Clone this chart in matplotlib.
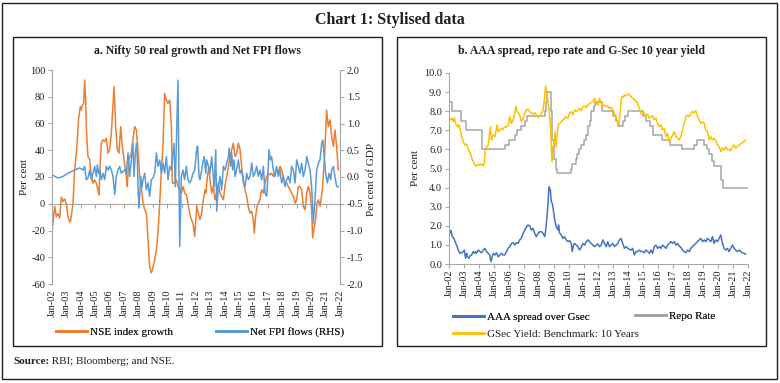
import matplotlib
matplotlib.use("Agg")
import matplotlib.pyplot as plt
from matplotlib.patches import Rectangle
from matplotlib.lines import Line2D
from matplotlib.text import Annotation

plt.rcParams['font.family'] = ['Liberation Serif', 'DejaVu Serif']
plt.rcParams['axes.unicode_minus'] = False

# ---------------- Data ----------------
# Panel a: NSE index growth (per cent, LHS)
nse_t = [2002.00, 2002.19, 2002.30, 2002.42, 2002.53, 2002.65, 2002.76, 2002.88, 2003.00, 2003.11,
         2003.23, 2003.30, 2003.46, 2003.57, 2003.69, 2003.76, 2003.85, 2003.97, 2004.04, 2004.11,
         2004.20, 2004.27, 2004.34, 2004.38, 2004.45, 2004.50, 2004.62, 2004.73, 2004.85, 2004.96,
         2005.08, 2005.19, 2005.26, 2005.36, 2005.43, 2005.54, 2005.66, 2005.77, 2005.89, 2006.00,
         2006.12, 2006.24, 2006.31, 2006.38, 2006.42, 2006.54, 2006.65, 2006.77, 2006.86, 2007.00,
         2007.09, 2007.19, 2007.23, 2007.32, 2007.51, 2007.62, 2007.74, 2007.86, 2007.97, 2008.09,
         2008.20, 2008.32, 2008.44, 2008.55, 2008.67, 2008.78, 2008.90, 2009.01, 2009.13, 2009.25,
         2009.36, 2009.48, 2009.59, 2009.71, 2009.82, 2009.94, 2010.06, 2010.17, 2010.29, 2010.36,
         2010.47, 2010.63, 2010.75, 2010.87, 2010.98, 2011.10, 2011.21, 2011.33, 2011.44, 2011.56,
         2011.68, 2011.79, 2011.91, 2012.05, 2012.16, 2012.28, 2012.39, 2012.51, 2012.63, 2012.69,
         2012.79, 2012.90, 2012.97, 2013.09, 2013.20, 2013.32, 2013.44, 2013.55, 2013.67, 2013.78,
         2013.90, 2014.01, 2014.13, 2014.25, 2014.36, 2014.48, 2014.59, 2014.71, 2014.82, 2014.94,
         2015.06, 2015.17, 2015.29, 2015.40, 2015.52, 2015.63, 2015.75, 2015.87, 2015.98, 2016.05,
         2016.14, 2016.24, 2016.33, 2016.44, 2016.56, 2016.68, 2016.79, 2016.91, 2017.02, 2017.14,
         2017.25, 2017.37, 2017.49, 2017.60, 2017.72, 2017.83, 2017.95, 2018.06, 2018.18, 2018.30,
         2018.41, 2018.53, 2018.64, 2018.76, 2018.88, 2018.99, 2019.11, 2019.22, 2019.34, 2019.45,
         2019.57, 2019.69, 2019.80, 2019.92, 2020.03, 2020.10, 2020.22, 2020.31, 2020.40, 2020.50,
         2020.61, 2020.68, 2020.77, 2020.87, 2020.96, 2021.07, 2021.19, 2021.31, 2021.42, 2021.54,
         2021.65, 2021.77, 2021.88]
nse_v = [-20.6, -2.0, -9.5, -7.5, -10.7, 5.0, 1.7, 3.5, 0.0, -9.5,
         -13.7, -12.4, 0.5, 25.4, 37.8, 47.8, 63.9, 72.6, 70.1, 73.9,
         75.1, 92.5, 77.6, 57.7, 42.8, 35.3, 32.8, 20.4, 15.4, 17.9,
         15.4, 10.4, 6.7, 32.8, 45.3, 47.8, 46.5, 49.0, 37.8, 40.3,
         52.7, 75.1, 87.6, 70.1, 57.7, 40.3, 37.8, 57.7, 45.3, 32.8,
         25.4, 17.9, 12.9, 32.8, 37.8, 47.8, 57.7, 55.2, 40.3, 20.4,
         12.9, 0.5, -4.5, -7.0, -26.9, -46.8, -51.7, -48.0, -41.8, -34.3,
         -21.9, 0.5, 22.9, 45.3, 82.6, 77.6, 75.1, 77.6, 57.7, 15.4,
         15.4, 17.9, 12.9, 10.4, 8.0, 12.9, 8.0, 6.7, 0.5, -7.0,
         -11.9, -14.4, -24.4, -2.0, -7.0, -11.9, -7.0, 3.0, 10.4, 8.0,
         20.4, 27.9, 17.9, 8.0, 12.9, 3.0, 8.0, 15.4, 8.0, 5.5,
         3.0, 12.9, 20.4, 27.9, 35.3, 40.3, 45.3, 35.3, 37.8, 45.3,
         40.3, 27.9, 17.9, 10.4, 5.5, -2.0, -7.0, -5.7, -11.9, -21.9,
         -9.5, -2.0, 0.5, 3.0, 10.4, 8.0, 15.4, 20.4, 22.9, 21.6,
         22.9, 20.4, 22.9, 25.4, 22.9, 27.9, 25.4, 20.4, 15.4, 15.4,
         12.9, 10.4, 8.0, 5.5, 0.5, 3.0, 12.9, 12.9, 10.4, -2.0,
         -4.5, 8.0, 12.9, 8.0, -4.5, -25.6, -16.9, -11.9, 0.5, 3.0,
         -2.0, 3.0, 10.4, 25.4, 42.8, 70.1, 57.7, 62.7, 50.2, 42.8,
         55.2, 42.8, 25.4]

# Panel a: Net FPI flows (per cent of GDP, RHS)
fpi_t = [2002.00, 2002.42, 2002.76, 2003.11, 2003.57, 2003.92, 2004.15, 2004.27, 2004.38, 2004.50,
         2004.62, 2004.73, 2004.85, 2004.96, 2005.08, 2005.15, 2005.24, 2005.31, 2005.43, 2005.54,
         2005.66, 2005.77, 2005.89, 2006.00, 2006.12, 2006.24, 2006.35, 2006.47, 2006.58, 2006.70,
         2006.81, 2006.93, 2007.05, 2007.16, 2007.28, 2007.39, 2007.51, 2007.62, 2007.69, 2007.79,
         2007.86, 2007.93, 2007.97, 2008.04, 2008.16, 2008.25, 2008.32, 2008.44, 2008.55, 2008.67,
         2008.78, 2008.90, 2009.01, 2009.13, 2009.25, 2009.36, 2009.48, 2009.59, 2009.71, 2009.82,
         2009.94, 2010.06, 2010.17, 2010.29, 2010.47, 2010.56, 2010.75, 2010.87, 2010.98, 2011.10,
         2011.21, 2011.33, 2011.44, 2011.56, 2011.68, 2011.79, 2011.91, 2012.07, 2012.12, 2012.21,
         2012.28, 2012.39, 2012.51, 2012.58, 2012.67, 2012.74, 2012.86, 2012.97, 2013.09, 2013.20,
         2013.27, 2013.37, 2013.44, 2013.55, 2013.67, 2013.78, 2013.90, 2014.01, 2014.13, 2014.25,
         2014.31, 2014.41, 2014.48, 2014.55, 2014.64, 2014.71, 2014.82, 2014.94, 2015.06, 2015.17,
         2015.29, 2015.40, 2015.52, 2015.63, 2015.75, 2015.87, 2015.98, 2016.10, 2016.21, 2016.33,
         2016.44, 2016.56, 2016.68, 2016.79, 2016.91, 2016.98, 2017.07, 2017.16, 2017.25, 2017.37,
         2017.49, 2017.60, 2017.72, 2017.83, 2017.95, 2018.06, 2018.18, 2018.30, 2018.41, 2018.53,
         2018.64, 2018.76, 2018.88, 2018.99, 2019.11, 2019.22, 2019.34, 2019.45, 2019.57, 2019.69,
         2019.80, 2019.92, 2020.03, 2020.15, 2020.26, 2020.38, 2020.50, 2020.61, 2020.73, 2020.80,
         2020.91, 2021.00, 2021.12, 2021.24, 2021.35, 2021.42, 2021.54, 2021.65, 2021.77, 2021.88]
fpi_v = [0.04, -0.02, 0.01, 0.07, 0.13, 0.17, 0.13, 0.20, -0.05, -0.02,
         0.13, -0.05, 0.07, 0.20, 0.01, 0.23, 0.07, 0.13, -0.05, 0.07,
         -0.05, 0.20, 0.13, 0.20, 0.13, 0.01, -0.33, 0.01, 0.13, 0.20,
         0.07, 0.10, 0.13, 0.07, 0.45, 0.01, 0.32, 0.63, 0.01, 0.45,
         0.63, 0.32, -0.18, -0.58, 0.01, -0.18, -0.05, 0.07, -0.24, -0.11,
         -0.36, -0.05, -0.02, 0.07, 0.45, 0.20, 0.32, 0.07, 0.26, 0.07,
         0.38, -0.05, 0.20, 0.13, 0.63, -0.18, 1.81, -1.30, 0.01, 0.13,
         -0.05, 0.20, -0.05, -0.11, -0.05, 0.07, 0.13, 0.57, 0.57, 0.01,
         -0.05, 0.13, 0.32, 0.38, 0.07, 0.32, 0.20, 0.07, 0.38, 0.01,
         -0.18, 0.51, -0.64, -0.18, 0.01, -0.24, 0.20, 0.13, 0.26, 0.38,
         0.54, 0.20, 0.45, 0.13, 0.32, 0.01, 0.13, 0.32, 0.07, 0.13,
         -0.11, -0.18, 0.07, -0.05, 0.01, 0.26, 0.01, 0.07, 0.20, 0.01,
         0.13, -0.05, 0.20, -0.30, -0.36, -0.05, 0.51, 0.32, 0.38, 0.13,
         0.01, 0.20, 0.01, 0.13, -0.11, 0.01, -0.18, -0.05, 0.01, -0.11,
         0.20, 0.13, -0.11, 0.32, 0.20, 0.07, 0.26, 0.01, 0.13, 0.38,
         0.26, 0.13, -0.18, -0.86, -0.43, 0.13, 0.26, 0.32, 0.63, 0.69,
         0.38, 0.07, -0.11, 0.07, -0.05, 0.13, 0.20, 0.01, -0.18, -0.18]

# Panel b: GSec yield benchmark 10 years
gsec_t = [2002.00, 2002.07, 2002.18, 2002.29, 2002.36, 2002.44, 2002.58, 2002.67, 2002.78, 2002.84,
          2002.96, 2003.07, 2003.18, 2003.29, 2003.40, 2003.51, 2003.62, 2003.73, 2003.84, 2003.96,
          2004.07, 2004.18, 2004.29, 2004.36, 2004.42, 2004.51, 2004.62, 2004.69, 2004.78, 2004.84,
          2004.91, 2004.98, 2005.07, 2005.13, 2005.22, 2005.29, 2005.40, 2005.51, 2005.62, 2005.73,
          2005.84, 2005.96, 2006.07, 2006.18, 2006.29, 2006.40, 2006.47, 2006.56, 2006.67, 2006.76,
          2006.84, 2006.96, 2007.07, 2007.18, 2007.29, 2007.40, 2007.51, 2007.62, 2007.73, 2007.84,
          2007.96, 2008.07, 2008.18, 2008.29, 2008.40, 2008.47, 2008.53, 2008.62, 2008.73, 2008.80,
          2008.89, 2008.96, 2009.02, 2009.09, 2009.16, 2009.22, 2009.31, 2009.40, 2009.51, 2009.62,
          2009.73, 2009.84, 2009.96, 2010.07, 2010.18, 2010.29, 2010.40, 2010.51, 2010.62, 2010.73,
          2010.84, 2010.96, 2011.07, 2011.18, 2011.29, 2011.40, 2011.51, 2011.62, 2011.73, 2011.84,
          2011.96, 2012.07, 2012.18, 2012.29, 2012.40, 2012.51, 2012.62, 2012.73, 2012.84, 2012.96,
          2013.07, 2013.18, 2013.29, 2013.36, 2013.44, 2013.51, 2013.58, 2013.67, 2013.73, 2013.84,
          2013.96, 2014.07, 2014.18, 2014.29, 2014.40, 2014.51, 2014.62, 2014.73, 2014.84, 2014.96,
          2015.07, 2015.18, 2015.29, 2015.40, 2015.51, 2015.62, 2015.73, 2015.84, 2015.96, 2016.07,
          2016.18, 2016.29, 2016.40, 2016.51, 2016.62, 2016.73, 2016.84, 2016.96, 2017.07, 2017.18,
          2017.29, 2017.40, 2017.51, 2017.62, 2017.73, 2017.84, 2017.96, 2018.07, 2018.18, 2018.29,
          2018.40, 2018.51, 2018.62, 2018.73, 2018.84, 2018.96, 2019.07, 2019.18, 2019.29, 2019.40,
          2019.51, 2019.62, 2019.73, 2019.84, 2019.96, 2020.07, 2020.18, 2020.29, 2020.40, 2020.51,
          2020.62, 2020.73, 2020.84, 2020.96, 2021.07, 2021.18, 2021.29, 2021.40, 2021.51, 2021.62,
          2021.73, 2021.84]
gsec_v = [7.68, 7.54, 7.63, 7.45, 7.66, 7.36, 7.19, 7.28, 6.93, 6.67,
          6.40, 6.23, 6.28, 5.97, 5.83, 5.58, 5.36, 5.18, 5.13, 5.22,
          5.18, 5.24, 5.13, 5.27, 5.97, 6.11, 6.23, 6.67, 7.19, 6.49,
          6.67, 6.75, 6.67, 6.93, 7.28, 6.93, 7.02, 7.10, 7.05, 7.19,
          7.16, 7.28, 7.71, 7.36, 7.54, 7.89, 8.27, 7.98, 7.89, 7.71,
          7.45, 7.63, 7.89, 8.06, 8.10, 7.98, 7.89, 7.85, 7.92, 7.80,
          7.68, 7.75, 7.89, 8.03, 8.76, 9.32, 8.94, 8.50, 7.80, 7.02,
          5.36, 6.14, 6.32, 6.93, 6.14, 6.67, 7.28, 7.36, 7.45, 7.54,
          7.63, 7.71, 7.63, 7.89, 7.98, 7.80, 8.06, 7.98, 8.06, 8.15,
          8.03, 8.24, 8.27, 8.20, 8.32, 8.41, 8.45, 8.50, 8.67, 8.41,
          8.32, 8.67, 8.41, 8.27, 8.32, 8.24, 8.27, 8.15, 8.20, 8.10,
          7.89, 7.71, 7.36, 7.28, 7.89, 8.59, 8.76, 8.73, 8.85, 8.80,
          8.90, 8.85, 8.76, 8.67, 8.59, 8.55, 8.41, 8.15, 7.89, 7.80,
          7.89, 7.71, 7.85, 7.63, 7.71, 7.75, 7.57, 7.63, 7.36, 7.19,
          7.28, 7.02, 7.10, 6.67, 6.84, 6.40, 6.58, 6.75, 6.93, 6.67,
          6.58, 6.49, 6.67, 7.02, 7.36, 7.71, 7.80, 7.71, 7.89, 7.98,
          7.92, 8.03, 7.71, 7.54, 7.36, 7.45, 7.36, 7.02, 6.93, 6.49,
          6.67, 6.49, 6.58, 6.46, 6.23, 6.14, 5.88, 6.06, 5.97, 6.14,
          5.97, 6.00, 5.93, 6.14, 6.23, 6.06, 6.14, 6.23, 6.28, 6.35,
          6.40, 6.49]

# Panel b: AAA spread over Gsec
aaa_t = [2002.00, 2002.07, 2002.13, 2002.22, 2002.33, 2002.40, 2002.51, 2002.62, 2002.73, 2002.84,
         2002.96, 2003.02, 2003.11, 2003.18, 2003.24, 2003.33, 2003.40, 2003.51, 2003.62, 2003.69,
         2003.78, 2003.84, 2003.96, 2004.07, 2004.18, 2004.29, 2004.40, 2004.51, 2004.62, 2004.73,
         2004.80, 2004.89, 2004.96, 2005.07, 2005.18, 2005.29, 2005.40, 2005.51, 2005.62, 2005.73,
         2005.84, 2005.96, 2006.07, 2006.18, 2006.29, 2006.40, 2006.51, 2006.62, 2006.73, 2006.84,
         2006.96, 2007.07, 2007.18, 2007.29, 2007.40, 2007.51, 2007.62, 2007.73, 2007.84, 2007.96,
         2008.07, 2008.18, 2008.29, 2008.40, 2008.47, 2008.56, 2008.62, 2008.69, 2008.78, 2008.84,
         2008.91, 2008.98, 2009.07, 2009.18, 2009.29, 2009.33, 2009.40, 2009.51, 2009.62, 2009.73,
         2009.84, 2009.96, 2010.07, 2010.18, 2010.24, 2010.33, 2010.40, 2010.51, 2010.62, 2010.73,
         2010.84, 2010.96, 2011.07, 2011.18, 2011.29, 2011.40, 2011.51, 2011.62, 2011.73, 2011.84,
         2011.96, 2012.07, 2012.18, 2012.29, 2012.40, 2012.51, 2012.62, 2012.73, 2012.84, 2012.96,
         2013.07, 2013.18, 2013.29, 2013.40, 2013.51, 2013.62, 2013.73, 2013.84, 2013.96, 2014.07,
         2014.18, 2014.29, 2014.40, 2014.51, 2014.62, 2014.73, 2014.84, 2014.96, 2015.07, 2015.18,
         2015.29, 2015.40, 2015.51, 2015.62, 2015.73, 2015.84, 2015.96, 2016.07, 2016.18, 2016.29,
         2016.40, 2016.51, 2016.62, 2016.73, 2016.84, 2016.96, 2017.07, 2017.18, 2017.29, 2017.40,
         2017.51, 2017.62, 2017.73, 2017.84, 2017.96, 2018.07, 2018.18, 2018.29, 2018.40, 2018.51,
         2018.62, 2018.73, 2018.84, 2018.96, 2019.07, 2019.18, 2019.29, 2019.40, 2019.51, 2019.62,
         2019.73, 2019.84, 2019.96, 2020.07, 2020.18, 2020.29, 2020.40, 2020.51, 2020.62, 2020.73,
         2020.84, 2020.96, 2021.07, 2021.18, 2021.29, 2021.40, 2021.51, 2021.62, 2021.73, 2021.84]
aaa_v = [1.78, 1.61, 1.75, 1.43, 1.34, 1.17, 0.99, 0.73, 0.56, 0.59,
         0.65, 0.73, 0.30, 0.56, 0.38, 0.30, 0.42, 0.47, 0.65, 0.56,
         0.65, 0.56, 0.73, 0.65, 0.59, 0.73, 0.82, 0.65, 0.56, 0.47,
         0.12, 0.38, 0.56, 0.47, 0.59, 0.38, 0.47, 0.56, 0.47, 0.47,
         0.65, 0.82, 0.91, 1.08, 1.12, 0.99, 1.12, 1.08, 1.26, 1.34,
         1.61, 1.78, 1.95, 2.04, 1.99, 1.78, 1.87, 1.61, 1.43, 1.61,
         1.69, 1.69, 1.61, 1.43, 1.78, 2.48, 3.18, 4.05, 3.87, 3.26,
         3.18, 2.83, 2.30, 1.95, 1.78, 2.04, 1.61, 1.52, 1.34, 1.43,
         1.26, 1.17, 1.22, 1.08, 0.65, 0.99, 1.08, 0.99, 0.91, 0.73,
         0.87, 1.08, 0.99, 1.17, 1.26, 1.17, 1.08, 0.99, 0.91, 0.99,
         1.05, 0.91, 0.99, 1.26, 1.08, 0.91, 1.17, 0.91, 0.99, 1.08,
         0.91, 0.99, 1.08, 1.26, 1.34, 1.08, 0.82, 0.91, 0.82, 0.77,
         0.73, 0.82, 0.47, 0.65, 0.65, 0.73, 0.65, 0.65, 0.59, 0.73,
         0.65, 0.56, 0.73, 0.56, 0.91, 0.99, 0.82, 0.91, 0.82, 0.99,
         0.91, 0.82, 0.99, 1.08, 1.17, 1.08, 1.17, 0.99, 1.08, 0.94,
         0.87, 0.73, 0.65, 0.59, 0.73, 0.65, 0.82, 0.91, 0.99, 1.08,
         1.17, 1.26, 1.34, 1.17, 1.26, 1.17, 1.34, 1.26, 1.17, 1.43,
         1.08, 1.26, 1.17, 1.34, 1.52, 1.08, 0.82, 0.73, 0.82, 0.65,
         0.82, 0.99, 0.82, 0.73, 0.65, 0.73, 0.65, 0.59, 0.56, 0.52]

# Panel b: Repo rate (change points)
repo_t = [2002.00, 2002.17, 2002.83, 2003.17, 2004.22, 2005.75, 2006.00, 2006.42, 2006.58, 2006.83,
          2007.08, 2007.25, 2008.42, 2008.50, 2008.58, 2008.83, 2008.92, 2009.00, 2009.17, 2009.25,
          2010.17, 2010.25, 2010.50, 2010.58, 2010.67, 2010.83, 2011.00, 2011.17, 2011.33, 2011.42,
          2011.50, 2011.67, 2011.75, 2012.25, 2013.00, 2013.17, 2013.33, 2013.67, 2013.75, 2014.00,
          2015.00, 2015.17, 2015.42, 2015.67, 2016.25, 2016.75, 2017.58, 2018.42, 2018.58, 2019.08,
          2019.25, 2019.42, 2019.58, 2019.75, 2020.17, 2020.33, 2021.92]
repo_v = [8.50, 8.00, 7.50, 7.00, 6.00, 6.25, 6.50, 6.75, 7.00, 7.25,
          7.50, 7.75, 8.00, 8.50, 9.00, 8.00, 6.50, 5.50, 5.00, 4.75,
          5.00, 5.25, 5.50, 5.75, 6.00, 6.25, 6.50, 6.75, 7.25, 7.50,
          8.00, 8.25, 8.50, 8.00, 7.75, 7.50, 7.25, 7.50, 7.75, 8.00,
          7.75, 7.50, 7.25, 6.75, 6.50, 6.25, 6.00, 6.25, 6.50, 6.25,
          6.00, 5.75, 5.40, 5.15, 4.40, 4.00, 4.00]

year_ticks = list(range(2002, 2023))
x_labels = ['Jan-02', 'Jan-03', 'Jan-04', 'Jan-05', 'Jan-06', 'Jan-07', 'Jan-08', 'Jan-09',
            'Jan-10', 'Jan-11', 'Jan-12', 'Jan-13', 'Jan-14', 'Jan-15', 'Jan-16', 'Jan-17',
            'Jan-18', 'Jan-19', 'Jan-20', 'Jan-21', 'Jan-22']
left_ticks = [-60, -40, -20, 0, 20, 40, 60, 80, 100]
right_ticks = [-2.0, -1.5, -1.0, -0.5, 0.0, 0.5, 1.0, 1.5, 2.0]
b_ticks = [0, 1, 2, 3, 4, 5, 6, 7, 8, 9, 10]

# ---------------- Styling ----------------
W, H = 780, 383
TXT = '#231F20'
SPINE = '#A6A6A6'
C_NSE = '#ED7D31'
C_FPI = '#5B9BD5'
C_AAA = '#4472C4'
C_REPO = '#A5A5A5'
C_GSEC = '#FFC000'
TICK_FS = 7.5
LEG_FS = 8


def fx(px):
    return px / W


def fy(py):
    return 1 - py / H


fig = plt.figure(figsize=(W / 100, H / 100), dpi=100)

# outer frames
fig.patches.append(Rectangle((fx(2), fy(379)), fx(775), (376) / H, transform=fig.transFigure,
                             fill=False, edgecolor=TXT, lw=1.0))
for x0 in (13, 397):
    fig.patches.append(Rectangle((fx(x0), fy(346)), fx(369), 309 / H, transform=fig.transFigure,
                                 fill=False, edgecolor=TXT, lw=1.0))

fig.text(0.5, fy(20.5), 'Chart 1: Stylised data', ha='center', va='center',
         fontsize=11.5, fontweight='bold', color=TXT)
fig.text(fx(197), fy(51), 'a. Nifty 50 real growth and Net FPI flows', ha='center', va='center',
         fontsize=8.5, fontweight='bold', color=TXT)
fig.text(fx(582), fy(51), 'b. AAA spread, repo rate and G-Sec 10 year yield', ha='center',
         va='center', fontsize=8.5, fontweight='bold', color=TXT)
t1 = fig.text(fx(13), fy(364), 'Source:', ha='left', va='baseline', fontsize=8,
              fontweight='bold', color=TXT)
fig.add_artist(Annotation(' RBI; Bloomberg; and NSE.', xy=(1, 0), xycoords=t1,
                          xytext=(1, 0), textcoords=t1,
                          ha='left', va='bottom', fontsize=8, color=TXT))


def style_xaxis(ax, at_zero):
    ax.set_xlim(2002, 2022)
    ax.set_xticks(year_ticks)
    ax.spines['top'].set_visible(False)
    ax.spines['right'].set_visible(False)
    ax.spines['bottom'].set_color(SPINE)
    ax.spines['left'].set_color(SPINE)
    if at_zero:
        ax.spines['bottom'].set_position(('data', 0))
    ax.tick_params(axis='x', direction='out', length=3, color=SPINE, labelbottom=False)
    sec = ax.secondary_xaxis('bottom')
    sec.spines['bottom'].set_visible(False)
    sec.set_xticks(year_ticks)
    sec.set_xticklabels(x_labels, rotation=90, fontsize=TICK_FS, color=TXT)
    sec.tick_params(axis='x', length=0, pad=4)


# ---------------- Panel a ----------------
ax1 = fig.add_axes([fx(52), fy(284), fx(288), 214 / H])
ax1.plot(nse_t, nse_v, color=C_NSE, lw=1.1)
ax1.set_ylim(-60, 100)
ax1.set_yticks(left_ticks)
ax1.set_yticklabels([str(v) for v in left_ticks])
ax1.tick_params(axis='y', direction='out', length=3, color=SPINE, labelsize=TICK_FS,
                labelcolor=TXT, pad=2)
style_xaxis(ax1, at_zero=True)
ax1.patch.set_visible(False)

ax2 = ax1.twinx()
ax2.plot(fpi_t, fpi_v, color=C_FPI, lw=1.1)
ax2.set_ylim(-2, 2)
ax2.set_yticks(right_ticks)
ax2.set_yticklabels(['%.1f' % v for v in right_ticks])
for s in ('top', 'left', 'bottom'):
    ax2.spines[s].set_visible(False)
ax2.spines['right'].set_color(SPINE)
ax2.tick_params(axis='y', direction='out', length=3, color=SPINE, labelsize=TICK_FS,
                labelcolor=TXT, pad=2)
ax2.set_xlim(2002, 2022)

fig.text(fx(25), fy(177), 'Per cent', rotation=90, ha='center', va='center', fontsize=LEG_FS,
         color=TXT)
fig.text(fx(371), fy(179), 'Per cent of GDP', rotation=90, ha='center', va='center',
         fontsize=LEG_FS, color=TXT)

leg_kw = dict(frameon=False, fontsize=LEG_FS, handlelength=2.8, handletextpad=0.3,
              borderpad=0, borderaxespad=0, loc='center left',
              bbox_transform=fig.transFigure, labelcolor=TXT)
l1 = fig.legend([Line2D([], [], color=C_NSE, lw=2)], ['NSE index growth'],
                bbox_to_anchor=(fx(56), fy(332)), **leg_kw)
fig.add_artist(l1)
l2 = fig.legend([Line2D([], [], color=C_FPI, lw=2)], ['Net FPI flows (RHS)'],
                bbox_to_anchor=(fx(216), fy(332)), **leg_kw)
fig.add_artist(l2)

# ---------------- Panel b ----------------
ax3 = fig.add_axes([fx(449), fy(264), fx(299), 191 / H])
h_repo, = ax3.plot(repo_t, repo_v, color=C_REPO, lw=1.1, drawstyle='steps-post')
h_gsec, = ax3.plot(gsec_t, gsec_v, color=C_GSEC, lw=1.1)
h_aaa, = ax3.plot(aaa_t, aaa_v, color=C_AAA, lw=1.1)
ax3.set_ylim(0, 10)
ax3.set_yticks(b_ticks)
ax3.set_yticklabels(['%.1f' % v for v in b_ticks])
ax3.tick_params(axis='y', direction='out', length=3, color=SPINE, labelsize=TICK_FS,
                labelcolor=TXT, pad=2)
style_xaxis(ax3, at_zero=False)
ax3.patch.set_visible(False)
fig.text(fx(415), fy(168), 'Per cent', rotation=90, ha='center', va='center', fontsize=LEG_FS,
         color=TXT)

l3 = fig.legend([Line2D([], [], color=C_AAA, lw=2)], ['AAA spread over Gsec'],
                bbox_to_anchor=(fx(453), fy(317)), **leg_kw)
fig.add_artist(l3)
l4 = fig.legend([Line2D([], [], color=C_REPO, lw=2)], ['Repo Rate'],
                bbox_to_anchor=(fx(635), fy(316)), **leg_kw)
fig.add_artist(l4)
l5 = fig.legend([Line2D([], [], color=C_GSEC, lw=2)], ['GSec Yield: Benchmark: 10 Years'],
                bbox_to_anchor=(fx(453), fy(334)), **leg_kw)

fig.savefig('out.png', dpi=100)
